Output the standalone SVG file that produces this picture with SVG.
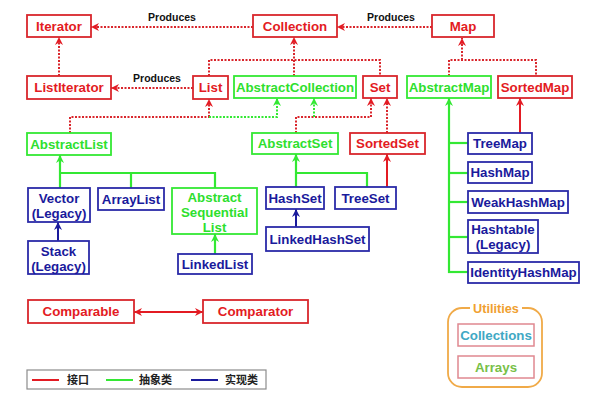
<svg xmlns="http://www.w3.org/2000/svg" width="593" height="403" viewBox="0 0 593 403">
<style>
  text { font-family: "Liberation Sans", Arial, sans-serif; font-weight: bold; font-size: 13.3px; text-anchor: middle; }
  .bx { fill: #fff; stroke-width: 1.8; }
  .r rect { stroke: #d9262c; } .r text { fill: #e31b23; }
  .g rect { stroke: #33e833; } .g text { fill: #2ee02e; }
  .b rect { stroke: #2b2ba8; } .b text { fill: #1a1a9c; }
  .dr { stroke: #d9262c; stroke-width: 2; stroke-dasharray: 2 1.5; fill: none; }
  .dg { stroke: #33e833; stroke-width: 2; stroke-dasharray: 2 1.5; fill: none; }
  .sr { stroke: #e31b23; stroke-width: 2; fill: none; }
  .sg { stroke: #33e833; stroke-width: 2.2; fill: none; }
  .sb { stroke: #1a1a9c; stroke-width: 2; fill: none; }
  .lbl { fill: #111; font-size: 10.5px; }
  .cjk { font-family: "Noto Sans CJK SC", sans-serif; font-size: 11px; font-weight: bold; text-anchor: start; fill: #222; }
</style>
<defs>
  <marker id="aR" viewBox="0 0 10 10" refX="10" refY="5" markerWidth="8" markerHeight="8" markerUnits="userSpaceOnUse" orient="auto-start-reverse"><path d="M0,0 L10,5 L0,10 L3,5 z" fill="#e31b23"/></marker>
  <marker id="aG" viewBox="0 0 10 10" refX="10" refY="5" markerWidth="8" markerHeight="8" markerUnits="userSpaceOnUse" orient="auto"><path d="M0,0 L10,5 L0,10 L3,5 z" fill="#33e833"/></marker>
  <marker id="aB" viewBox="0 0 10 10" refX="10" refY="5" markerWidth="8" markerHeight="8" markerUnits="userSpaceOnUse" orient="auto"><path d="M0,0 L10,5 L0,10 L3,5 z" fill="#1a1a9c"/></marker>
</defs>
<rect width="593" height="403" fill="#fff"/>

<g id="connectors">
  <line class="dr" x1="253" y1="27" x2="91" y2="27" marker-end="url(#aR)"/>
  <line class="dr" x1="432" y1="27" x2="337" y2="27" marker-end="url(#aR)"/>
  <line class="dr" x1="193" y1="88" x2="111" y2="88" marker-end="url(#aR)"/>
  <text class="lbl" x="172" y="21">Produces</text>
  <text class="lbl" x="391" y="21">Produces</text>
  <text class="lbl" x="157" y="82">Produces</text>
  <line class="dr" x1="59" y1="76" x2="59" y2="37" marker-end="url(#aR)"/>
  <line class="dr" x1="294" y1="76" x2="294" y2="37" marker-end="url(#aR)"/>
  <polyline class="dr" points="209,76 209,60 380,60 380,76"/>
  <line class="dr" x1="462" y1="60" x2="462" y2="38" marker-end="url(#aR)"/>
  <polyline class="dr" points="449,76 449,60 536,60 536,76"/>
  <polyline class="dr" points="70,133 70,117 209,117"/>
  <line class="dr" x1="209" y1="117" x2="209" y2="99" marker-end="url(#aR)"/>
  <polyline class="dg" points="209,117 277,117 277,98" marker-end="url(#aG)"/>
  <polyline class="dr" points="296,133 296,117 371,117 371,98" marker-end="url(#aR)"/>
  <line class="dg" x1="314" y1="117" x2="314" y2="98" marker-end="url(#aG)"/>
  <line class="dr" x1="387" y1="133" x2="387" y2="98" marker-end="url(#aR)"/>
  <line class="sg" x1="60" y1="188" x2="60" y2="155" marker-end="url(#aG)"/>
  <polyline class="sg" points="60,173 215,173 215,188"/>
  <line class="sg" x1="131" y1="173" x2="131" y2="188"/>
  <line class="sb" x1="58" y1="241" x2="58" y2="222" marker-end="url(#aB)"/>
  <line class="sg" x1="215" y1="254" x2="215" y2="234" marker-end="url(#aG)"/>
  <line class="sg" x1="296" y1="187" x2="296" y2="154" marker-end="url(#aG)"/>
  <polyline class="sg" points="296,173 367,173 367,187"/>
  <line class="sr" x1="387" y1="187" x2="387" y2="154" marker-end="url(#aR)"/>
  <line class="sb" x1="296" y1="227" x2="296" y2="209" marker-end="url(#aB)"/>
  <line class="sg" x1="449" y1="273" x2="449" y2="98" marker-end="url(#aG)"/>
  <line class="sg" x1="448" y1="143" x2="468" y2="143"/>
  <line class="sg" x1="448" y1="173" x2="468" y2="173"/>
  <line class="sg" x1="448" y1="202" x2="468" y2="202"/>
  <line class="sg" x1="448" y1="237" x2="468" y2="237"/>
  <line class="sg" x1="448" y1="272" x2="468" y2="272"/>
  <line class="sr" x1="520" y1="133" x2="520" y2="98" marker-end="url(#aR)"/>
  <line class="sr" x1="134" y1="312" x2="203" y2="312" marker-start="url(#aR)" marker-end="url(#aR)"/>
</g>

<g id="Iterator" class="r"><rect class="bx" x="27" y="15" width="64" height="22"/><text x="59" y="30.7">Iterator</text></g>
<g id="Collection" class="r"><rect class="bx" x="253" y="15" width="84" height="22"/><text x="295" y="30.7">Collection</text></g>
<g id="Map" class="r"><rect class="bx" x="432" y="15" width="62" height="22"/><text x="463" y="30.7">Map</text></g>
<g id="ListIterator" class="r"><rect class="bx" x="27" y="76" width="84" height="23"/><text x="69" y="92.2">ListIterator</text></g>
<g id="List" class="r"><rect class="bx" x="193" y="76" width="35" height="23"/><text x="210.5" y="92.2">List</text></g>
<g id="AbstractCollection" class="g"><rect class="bx" x="234" y="76" width="122" height="22"/><text x="295" y="91.7">AbstractCollection</text></g>
<g id="Set" class="r"><rect class="bx" x="363" y="76" width="34" height="22"/><text x="380" y="91.7">Set</text></g>
<g id="AbstractMap" class="g"><rect class="bx" x="407" y="76" width="84" height="22"/><text x="449" y="91.7">AbstractMap</text></g>
<g id="SortedMap" class="r"><rect class="bx" x="498" y="76" width="74" height="22"/><text x="535" y="91.7">SortedMap</text></g>
<g id="AbstractList" class="g"><rect class="bx" x="27" y="133" width="84" height="22"/><text x="69" y="148.7">AbstractList</text></g>
<g id="AbstractSet" class="g"><rect class="bx" x="252" y="133" width="86" height="21"/><text x="295" y="148.2">AbstractSet</text></g>
<g id="SortedSet" class="r"><rect class="bx" x="350" y="133" width="75" height="21"/><text x="387.5" y="148.2">SortedSet</text></g>
<g id="Vector" class="b"><rect class="bx" x="28" y="188" width="62" height="34"/><text x="59" y="202.5">Vector</text><text x="59" y="217.5">(Legacy)</text></g>
<g id="ArrayList" class="b"><rect class="bx" x="98" y="188" width="66" height="22"/><text x="131" y="203.7">ArrayList</text></g>
<g id="AbstractSequentialList" class="g"><rect class="bx" x="172" y="188" width="85" height="46"/><text x="214.5" y="201.5">Abstract</text><text x="214.5" y="216.5">Sequential</text><text x="214.5" y="231.5">List</text></g>
<g id="Stack" class="b"><rect class="bx" x="28" y="241" width="61" height="33"/><text x="58.5" y="255.5">Stack</text><text x="58.5" y="270.5">(Legacy)</text></g>
<g id="LinkedList" class="b"><rect class="bx" x="178" y="254" width="74" height="20"/><text x="215" y="268.7">LinkedList</text></g>
<g id="HashSet" class="b"><rect class="bx" x="266" y="187" width="58" height="22"/><text x="295" y="202.7">HashSet</text></g>
<g id="TreeSet" class="b"><rect class="bx" x="335" y="187" width="61" height="22"/><text x="365.5" y="202.7">TreeSet</text></g>
<g id="LinkedHashSet" class="b"><rect class="bx" x="266" y="227" width="103" height="24"/><text x="317.5" y="243.7">LinkedHashSet</text></g>
<g id="TreeMap" class="b"><rect class="bx" x="468" y="133" width="64" height="21"/><text x="500" y="148.2">TreeMap</text></g>
<g id="HashMap" class="b"><rect class="bx" x="468" y="162" width="64" height="21"/><text x="500" y="177.2">HashMap</text></g>
<g id="WeakHashMap" class="b"><rect class="bx" x="468" y="191" width="100" height="22"/><text x="518" y="206.7">WeakHashMap</text></g>
<g id="Hashtable" class="b"><rect class="bx" x="468" y="220" width="70" height="33"/><text x="503" y="233.5">Hashtable</text><text x="503" y="249">(Legacy)</text></g>
<g id="IdentityHashMap" class="b"><rect class="bx" x="468" y="262" width="111" height="21"/><text x="523.5" y="277.2">IdentityHashMap</text></g>
<g id="Comparable" class="r"><rect class="bx" x="28" y="300" width="106" height="23"/><text x="81" y="316.2">Comparable</text></g>
<g id="Comparator" class="r"><rect class="bx" x="203" y="300" width="105" height="23"/><text x="255.5" y="316.2">Comparator</text></g>

<g id="Utilities">
  <rect x="448" y="308" width="94" height="79" rx="14" ry="14" fill="none" stroke="#f0aa48" stroke-width="1.8"/>
  <rect x="470" y="300" width="52" height="16" fill="#fff"/>
  <text x="496" y="312.5" style="fill:#f0a030;font-size:12.7px">Utilities</text>
</g>
<g id="Collections"><rect x="458" y="324" width="76" height="22" fill="#fff" stroke="#e08890" stroke-width="1.5"/><text x="496" y="339.7" style="fill:#40a8c4">Collections</text></g>
<g id="Arrays"><rect x="458" y="356" width="76" height="22" fill="#fff" stroke="#e08890" stroke-width="1.5"/><text x="496" y="371.7" style="fill:#78c048">Arrays</text></g>

<g id="legend">
  <rect x="27" y="370" width="239" height="19" fill="#fff" stroke="#8c8c8c" stroke-width="1.2"/>
  <line x1="32" y1="380" x2="59" y2="380" stroke="#e31b23" stroke-width="2"/>
  <text class="cjk" x="67" y="384">接口</text>
  <line x1="106" y1="380" x2="133" y2="380" stroke="#33e833" stroke-width="2"/>
  <text class="cjk" x="139" y="384">抽象类</text>
  <line x1="191" y1="380" x2="218" y2="380" stroke="#1a1a9c" stroke-width="2"/>
  <text class="cjk" x="225" y="384">实现类</text>
</g>
</svg>
